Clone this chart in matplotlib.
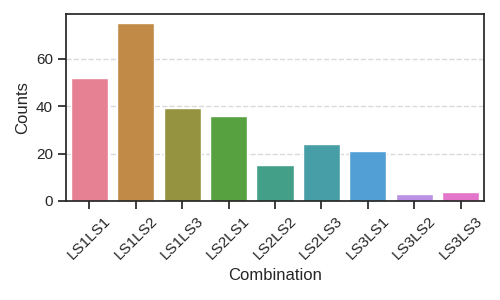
import matplotlib
matplotlib.use("Agg")
import matplotlib.pyplot as plt
import seaborn as sns
import pandas as pd

categories = ["LS1LS1", "LS1LS2", "LS1LS3", "LS2LS1", "LS2LS2", "LS2LS3", "LS3LS1", "LS3LS2", "LS3LS3"]
counts = [52, 75, 39, 36, 15, 24, 21, 3, 4]

sns.set_theme(style="ticks")
plt.rcParams['font.family'] = ['Liberation Sans', 'DejaVu Sans']
df = pd.DataFrame({"Combination": categories, "Counts": counts})

fig, ax = plt.subplots(figsize=(5, 3), dpi=100)
sns.barplot(data=df, x="Combination", y="Counts", hue="Combination", palette="husl", legend=False, ax=ax)
ax.yaxis.grid(True, linestyle='--', color='0.85')
ax.set_axisbelow(True)
ax.set_yticks([0, 20, 40, 60])
plt.setp(ax.get_xticklabels(), rotation=45)
fig.subplots_adjust(left=0.132, right=0.968, top=0.953, bottom=0.33)
fig.savefig("out.png", dpi=100)
